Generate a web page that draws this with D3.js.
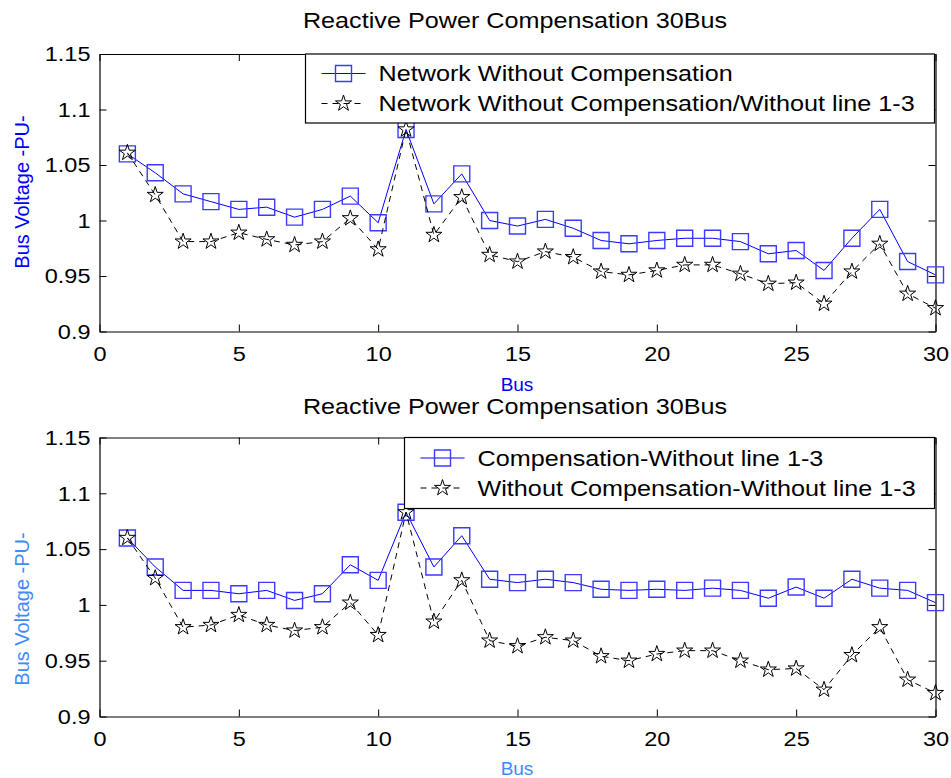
<!DOCTYPE html>
<html>
<head>
<meta charset="utf-8">
<script src="https://cdn.jsdelivr.net/npm/d3@7"></script>
<style>
  body { margin: 0; background: #fff; }
  text { font-family: "Liberation Sans", Arial, sans-serif; }
</style>
</head>
<body>
<svg id="chart" width="951" height="778"></svg>
<script>
// bus numbers
const buses = [1, 2, 3, 4, 5, 6, 7, 8, 9, 10, 11, 12, 13, 14, 15,
               16, 17, 18, 19, 20, 21, 22, 23, 24, 25, 26, 27, 28, 29, 30];

// top panel
const topNoComp = [1.060, 1.043, 1.024, 1.017, 1.010, 1.012, 1.003, 1.010, 1.022, 0.998,
                   1.082, 1.015, 1.042, 1.000, 0.995, 1.001, 0.993, 0.982, 0.979, 0.982,
                   0.984, 0.984, 0.981, 0.970, 0.973, 0.955, 0.984, 1.010, 0.963, 0.951];
const topNoCompNoLine = [1.061, 1.023, 0.981, 0.981, 0.989, 0.983, 0.978, 0.981, 1.002, 0.974,
                         1.082, 0.987, 1.021, 0.969, 0.963, 0.972, 0.967, 0.954, 0.951, 0.955,
                         0.960, 0.960, 0.952, 0.943, 0.944, 0.925, 0.954, 0.979, 0.934, 0.921];

// bottom panel
const botCompNoLine = [1.060, 1.034, 1.013, 1.013, 1.010, 1.013, 1.004, 1.010, 1.036, 1.022,
                       1.083, 1.034, 1.062, 1.023, 1.020, 1.023, 1.020, 1.014, 1.013, 1.014,
                       1.013, 1.015, 1.013, 1.006, 1.016, 1.006, 1.023, 1.015, 1.013, 1.002];
const botNoCompNoLine = [1.060, 1.024, 0.980, 0.982, 0.991, 0.982, 0.977, 0.980, 1.002, 0.973,
                         1.083, 0.985, 1.022, 0.968, 0.963, 0.971, 0.968, 0.954, 0.950, 0.956,
                         0.959, 0.959, 0.950, 0.942, 0.943, 0.924, 0.955, 0.980, 0.933, 0.921];

const xTicks = [0, 5, 10, 15, 20, 25, 30];
const yTicks = [0.9, 0.95, 1, 1.05, 1.1, 1.15];

const chartTitle = "Reactive Power Compensation 30Bus";
const topLegend = ["Network Without Compensation", "Network Without Compensation/Without line 1-3"];
const botLegend = ["Compensation-Without line 1-3", "Without Compensation-Without line 1-3"];

const svg = d3.select("#chart");
const plotL = 99.5, plotR = 935.5;
const textScale = 1.12;   // source font runs wider than Arial

function drawPanel(p) {
    let g = svg.append("g");

    let xScale = d3.scaleLinear().domain([0, 30]).range([plotL, plotR]);
    let yScale = d3.scaleLinear().domain([0.9, 1.15]).range([p.bottom, p.top]);

    /* axes box, ticks point inwards */
    let xAx = g.append("g")
        .attr("transform", "translate(0," + p.bottom + ")")
        .call(d3.axisBottom(xScale).tickValues(xTicks).tickSizeInner(-7).tickSizeOuter(0).tickPadding(15));
    g.append("g")
        .attr("transform", "translate(0," + p.top + ")")
        .call(d3.axisTop(xScale).tickValues(xTicks).tickSizeInner(-7).tickSizeOuter(0).tickFormat(""));
    let yAx = g.append("g")
        .attr("transform", "translate(" + plotL + ",0)")
        .call(d3.axisLeft(yScale).tickValues(yTicks).tickSizeInner(-7).tickSizeOuter(0).tickFormat(d3.format("")));
    g.append("g")
        .attr("transform", "translate(" + plotR + ",0)")
        .call(d3.axisRight(yScale).tickValues(yTicks).tickSizeInner(-7).tickSizeOuter(0).tickFormat(""));

    g.selectAll(".domain").attr("stroke", "#000").attr("stroke-width", 1.2);
    g.selectAll(".tick line").attr("stroke", "#000");
    [xAx, yAx].forEach(a => a.selectAll(".tick text")
        .attr("fill", "#000")
        .style("font-size", "21px")
        .style("font-family", '"Liberation Sans", Arial, sans-serif'));
    xAx.selectAll(".tick text").attr("transform", "scale(" + textScale + ",1)").attr("x", 0);
    yAx.selectAll(".tick text")
        .attr("transform", "translate(-9,0) scale(" + textScale + ",1)")
        .attr("x", 0);

    /* title and labels */
    g.append("text")
        .attr("text-anchor", "middle")
        .attr("transform", "translate(515," + p.titleY + ") scale(" + textScale + ",1)")
        .style("font-size", "22.5px")
        .text(chartTitle);
    g.append("text")
        .attr("text-anchor", "middle")
        .attr("transform", "translate(517," + p.xLabelY + ")")
        .attr("fill", p.labelColor)
        .style("font-size", "19px")
        .text("Bus");
    g.append("text")
        .attr("text-anchor", "middle")
        .attr("transform", "translate(29," + p.yLabelMid + ") rotate(-90)")
        .attr("fill", p.labelColor)
        .style("font-size", "20px")
        .text("Bus Voltage -PU-");

    /* series */
    let line = d3.line().x((d, i) => xScale(buses[i])).y(d => yScale(d));
    let square = d3.symbol(d3.symbolSquare, 256);
    let star = d3.symbol(d3.symbolStar, 80);

    g.append("path").datum(p.s1)
        .attr("d", line)
        .attr("fill", "none")
        .attr("stroke", "#0000ff")
        .attr("stroke-width", 1);
    g.append("g").selectAll("path")
        .data(p.s1)
        .join("path")
        .attr("transform", (d, i) => "translate(" + xScale(buses[i]) + "," + yScale(d) + ")")
        .attr("d", square)
        .attr("fill", "none")
        .attr("stroke", "#3b3bff")
        .attr("stroke-width", 1.4);

    g.append("path").datum(p.s2)
        .attr("d", line)
        .attr("fill", "none")
        .attr("stroke", "#000")
        .attr("stroke-width", 1)
        .attr("stroke-dasharray", "6,5");
    g.append("g").selectAll("path")
        .data(p.s2)
        .join("path")
        .attr("transform", (d, i) => "translate(" + xScale(buses[i]) + "," + yScale(d) + ")")
        .attr("d", star)
        .attr("fill", "none")
        .attr("stroke", "#000")
        .attr("stroke-width", 1);

    /* legend */
    let lg = g.append("g");
    lg.append("rect")
        .attr("x", p.legX).attr("y", p.top)
        .attr("width", plotR - 1 - p.legX).attr("height", p.legH)
        .attr("fill", "#fff")
        .attr("stroke", "#000")
        .attr("stroke-width", 1.2);
    let rowY = [p.top + p.legH / 2 - 15, p.top + p.legH / 2 + 15];
    let mx = p.legX + 38;

    lg.append("line")
        .attr("x1", mx - 22).attr("x2", mx + 22).attr("y1", rowY[0]).attr("y2", rowY[0])
        .attr("stroke", "#0000ff");
    lg.append("path")
        .attr("transform", "translate(" + mx + "," + rowY[0] + ")")
        .attr("d", square).attr("fill", "none").attr("stroke", "#3b3bff").attr("stroke-width", 1.4);
    lg.append("line")
        .attr("x1", mx - 22).attr("x2", mx + 22).attr("y1", rowY[1]).attr("y2", rowY[1])
        .attr("stroke", "#000").attr("stroke-dasharray", "6,5");
    lg.append("path")
        .attr("transform", "translate(" + mx + "," + rowY[1] + ")")
        .attr("d", star).attr("fill", "none").attr("stroke", "#000");

    lg.selectAll("text.leg")
        .data(p.legend)
        .join("text")
        .attr("class", "leg")
        .attr("transform", (d, i) => "translate(" + (mx + 35) + "," + rowY[i] + ") scale(" + textScale + ",1)")
        .attr("dy", "0.35em")
        .style("font-size", "22.5px")
        .text(d => d);
}

drawPanel({
    top: 54, bottom: 331.5, titleY: 28, xLabelY: 391, yLabelMid: 192,
    labelColor: "#0000ff", s1: topNoComp, s2: topNoCompNoLine,
    legend: topLegend, legX: 305.5, legH: 69
});

drawPanel({
    top: 437.5, bottom: 716.5, titleY: 414, xLabelY: 775, yLabelMid: 609,
    labelColor: "#3d8bff", s1: botCompNoLine, s2: botNoCompNoLine,
    legend: botLegend, legX: 404.5, legH: 71
});
</script>
</body>
</html>
